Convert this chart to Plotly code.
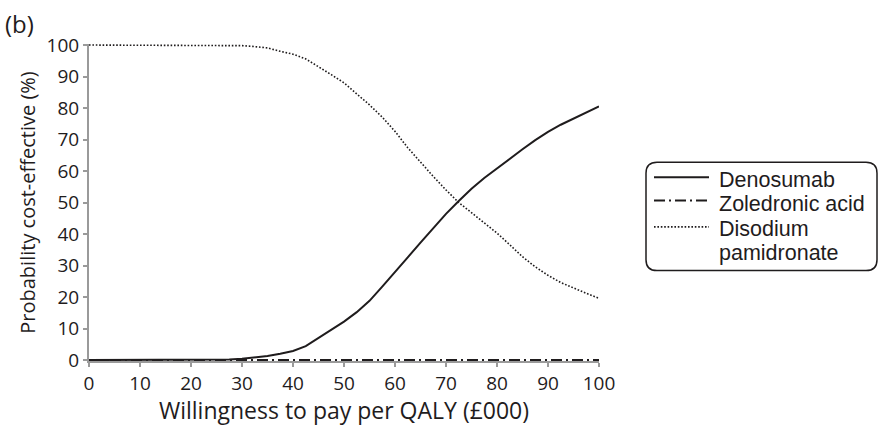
import plotly.graph_objects as go

# ---- data ----
wtp = [0, 5, 10, 15, 20, 25, 27.5, 30, 32.5, 35, 37.5, 40, 42.5, 45, 47.5, 50,
       52.5, 55, 57.5, 60, 62.5, 65, 67.5, 70, 72.5, 75, 77.5, 80, 82.5, 85,
       87.5, 90, 92.5, 95, 97.5, 100]
denosumab = [0, 0, 0, 0, 0.05, 0.1, 0.2, 0.4, 0.8, 1.3, 2.0, 2.9, 4.4, 7.0, 9.7, 12.2,
             15.2, 18.8, 23.3, 27.8, 32.6, 37.3, 42.0, 46.4, 50.5, 54.4, 57.8, 60.9, 64.0, 66.9,
             69.8, 72.4, 74.7, 76.6, 78.6, 80.5]
zoledronic = [0] * len(wtp)
disodium = [100, 100, 100, 100, 100, 100, 99.9, 99.8, 99.5, 99.1, 98.0, 97.1, 95.6, 93.2, 90.6, 88.0,
            84.6, 81.0, 77.1, 72.6, 67.4, 62.8, 58.3, 54.0, 50.0, 46.8, 43.6, 40.3, 36.6, 32.8,
            29.6, 26.9, 24.6, 22.8, 21.2, 19.6]
series_names = ["Denosumab", "Zoledronic acid", "Disodium pamidronate"]
legend_lines = [["Denosumab"], ["Zoledronic acid"], ["Disodium", "pamidronate"]]
x_ticks = [0, 10, 20, 30, 40, 50, 60, 70, 80, 90, 100]
y_ticks = [0, 10, 20, 30, 40, 50, 60, 70, 80, 90, 100]

FONT = "Open Sans"
LEGEND_FONT = "Liberation Sans"
ink = "#1f1c1d"
axis_grey = "#9a9a9a"

styles = [dict(color=ink, width=2),
          dict(color=ink, width=2, dash="11px,4px,2px,4px"),
          dict(color=ink, width=1.6, dash="1.6px,1.8px")]
series = [denosumab, zoledronic, disodium]

fig = go.Figure()
for name, vals, st in zip(series_names, series, styles):
    fig.add_trace(go.Scatter(x=wtp, y=vals, mode="lines", name=name,
                             line=st, showlegend=False))

# ---- plot-area geometry in pixels, for placing the legend block ----
L, R, T, B = 89, 599, 44, 363
def px(x):
    return (x - L) / (R - L)
def py(y):
    return (B - y) / (B - T)

# rounded legend frame
x0, x1, y0, y1 = px(646), px(877), py(272), py(163)
rx, ry = 11 / (R - L), 11 / (B - T)
path = (f"M {x0+rx},{y1} L {x1-rx},{y1} Q {x1},{y1} {x1},{y1-ry} "
        f"L {x1},{y0+ry} Q {x1},{y0} {x1-rx},{y0} L {x0+rx},{y0} "
        f"Q {x0},{y0} {x0},{y0+ry} L {x0},{y1-ry} Q {x0},{y1} {x0+rx},{y1} Z")
fig.add_shape(type="path", path=path, xref="paper", yref="paper",
              line=dict(color=ink, width=1.5), fillcolor="rgba(0,0,0,0)")

text_rows = [[181], [205], [230.5, 254.5]]
sample_rows = [178, 201.5, 228]
for lines, rows, sy, st in zip(legend_lines, text_rows, sample_rows, styles):
    fig.add_shape(type="line", xref="paper", yref="paper",
                  x0=px(654), x1=px(709), y0=py(sy), y1=py(sy), line=st)
    for txt, ty in zip(lines, rows):
        fig.add_annotation(text=txt, xref="paper", yref="paper", x=px(717), y=py(ty),
                           xanchor="left", yanchor="middle", showarrow=False,
                           font=dict(family=LEGEND_FONT, size=21.5, color=ink))

fig.add_annotation(text="(b)", xref="paper", yref="paper", x=px(3), y=py(5),
                   xanchor="left", yanchor="top", showarrow=False,
                   font=dict(family=FONT, size=24, color=ink))

fig.update_layout(
    width=878, height=426,
    margin=dict(l=L, r=878 - R, t=T, b=426 - B),
    paper_bgcolor="white", plot_bgcolor="white",
    font=dict(family=FONT, color=ink),
    showlegend=False,
    xaxis=dict(range=[0, 100], tickvals=x_ticks, ticktext=[str(v) for v in x_ticks],
               showline=True, linecolor=axis_grey, linewidth=1.5,
               ticks="outside", ticklen=4, tickcolor=axis_grey, tickwidth=1.5,
               showgrid=False, zeroline=False,
               tickfont=dict(family=FONT, size=19, color=ink),
               title=dict(text="Willingness to pay per QALY (£000)",
                          font=dict(family=FONT, size=23, color=ink), standoff=2)),
    yaxis=dict(range=[-0.3, 100.33], tickvals=y_ticks, ticktext=[str(v) for v in y_ticks],
               showline=True, linecolor=axis_grey, linewidth=2,
               ticks="outside", ticklen=4, tickcolor=axis_grey, tickwidth=1.5,
               showgrid=False, zeroline=False,
               tickfont=dict(family=FONT, size=19, color=ink),
               title=dict(text="Probability cost-effective (%)",
                          font=dict(family=FONT, size=20, color=ink), standoff=6)),
)

fig.write_html("out.html", config={"displayModeBar": False},
               post_script="document.body.style.margin='0';document.body.style.overflow='hidden';")
